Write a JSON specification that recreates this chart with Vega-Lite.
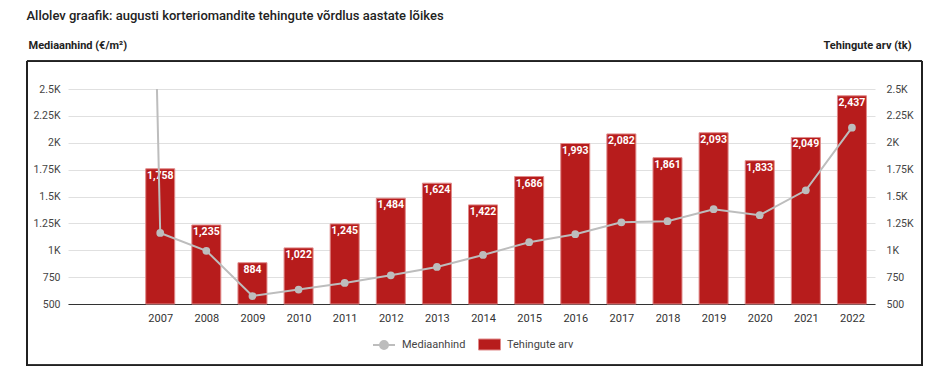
{
  "$schema": "https://vega.github.io/schema/vega-lite/v6.json",
  "width": 807,
  "height": 215,
  "autosize": {"type": "none"},
  "padding": {"left": 68, "top": 89, "right": 73, "bottom": 68},
  "background": "white",
  "config": {"font": "Roboto", "view": {"stroke": null}},
  "title": {"text": "Allolev graafik: augusti korteriomandite tehingute võrdlus aastate lõikes", "anchor": "start", "fontSize": 13, "fontWeight": 500, "color": "#222", "offset": 16},
  "data": {"values": [
    {"year": 2006, "price": 20000, "count": null},
    {"year": 2007, "price": 1161, "count": 1758},
    {"year": 2008, "price": 995, "count": 1235},
    {"year": 2009, "price": 574, "count": 884},
    {"year": 2010, "price": 634, "count": 1022},
    {"year": 2011, "price": 696, "count": 1245},
    {"year": 2012, "price": 767, "count": 1484},
    {"year": 2013, "price": 845, "count": 1624},
    {"year": 2014, "price": 956, "count": 1422},
    {"year": 2015, "price": 1075, "count": 1686},
    {"year": 2016, "price": 1149, "count": 1993},
    {"year": 2017, "price": 1260, "count": 2082},
    {"year": 2018, "price": 1270, "count": 1861},
    {"year": 2019, "price": 1382, "count": 2093},
    {"year": 2020, "price": 1326, "count": 1833},
    {"year": 2021, "price": 1558, "count": 2049},
    {"year": 2022, "price": 2140, "count": 2437}
  ]},
  "layer": [
    {
      "layer": [
        {
          "mark": {"type": "rect", "fill": null, "stroke": "#222", "strokeWidth": 1, "clip": false},
          "encoding": {
            "x": {"datum": 2004.11, "type": "quantitative", "scale": {"domain": [2005, 2022.5], "nice": false, "zero": false, "padding": 0}},
            "x2": {"datum": 2023.52},
            "y": {"datum": 2757, "type": "quantitative", "scale": {"domain": [500, 2500], "nice": false, "zero": false},
              "axis": {"orient": "right", "values": [500, 750, 1000, 1250, 1500, 1750, 2000, 2250, 2500], "labelExpr": "datum.value >= 1000 ? (datum.value/1000) + 'K' : datum.value + ''", "labelOverlap": false, "grid": false, "domain": false, "ticks": false, "labelPadding": 11, "labelFontSize": 10.5, "labelColor": "#444", "title": "Tehingute arv (tk)", "titleAngle": 0, "titleX": 36, "titleY": -44, "titleAlign": "right", "titleBaseline": "middle", "titleFontSize": 11, "titleFontWeight": "bold", "titleColor": "#222"}},
            "y2": {"datum": -71}
          }
        },
        {
          "transform": [{"filter": "datum.count != null"}],
          "mark": {"type": "bar", "width": 29, "stroke": "#e08a8a", "strokeWidth": 1},
          "encoding": {
            "x": {"field": "year", "type": "quantitative", "scale": {"domain": [2005, 2022.5], "nice": false, "zero": false, "padding": 0},
              "axis": {"values": [2007, 2008, 2009, 2010, 2011, 2012, 2013, 2014, 2015, 2016, 2017, 2018, 2019, 2020, 2021, 2022], "format": "d", "grid": false, "ticks": false, "domainColor": "#333", "labelColor": "#333", "labelFontSize": 11, "labelPadding": 8, "labelOverlap": false, "title": null}},
            "y": {"field": "count", "type": "quantitative", "scale": {"domain": [500, 2500], "nice": false, "zero": false},
              "axis": {"orient": "right", "values": [500, 750, 1000, 1250, 1500, 1750, 2000, 2250, 2500], "labelExpr": "datum.value >= 1000 ? (datum.value/1000) + 'K' : datum.value + ''", "labelOverlap": false, "grid": false, "domain": false, "ticks": false, "labelPadding": 11, "labelFontSize": 10.5, "labelColor": "#444", "title": "Tehingute arv (tk)", "titleAngle": 0, "titleX": 36, "titleY": -44, "titleAlign": "right", "titleBaseline": "middle", "titleFontSize": 11, "titleFontWeight": "bold", "titleColor": "#222"}},
            "y2": {"datum": 500},
            "fill": {"datum": "Tehingute arv", "scale": {"domain": ["Tehingute arv"], "range": ["#b71c1c"]},
              "legend": {"orient": "none", "legendX": 410, "legendY": 244, "title": null, "labelFontSize": 11, "labelColor": "#444", "symbolType": "M-1,-0.5H1V0.5H-1Z", "symbolSize": 484, "symbolStrokeColor": "#e08a8a", "symbolStrokeWidth": 1, "symbolOpacity": 1, "labelOffset": 6}}
          }
        },
        {
          "transform": [{"filter": "datum.count != null"}],
          "mark": {"type": "text", "color": "white", "fontWeight": "bold", "fontSize": 10.5, "baseline": "top", "dy": 2},
          "encoding": {
            "x": {"field": "year", "type": "quantitative", "scale": {"domain": [2005, 2022.5], "nice": false, "zero": false, "padding": 0}},
            "y": {"field": "count", "type": "quantitative", "scale": {"domain": [500, 2500], "nice": false, "zero": false},
              "axis": {"orient": "right", "values": [500, 750, 1000, 1250, 1500, 1750, 2000, 2250, 2500], "labelExpr": "datum.value >= 1000 ? (datum.value/1000) + 'K' : datum.value + ''", "labelOverlap": false, "grid": false, "domain": false, "ticks": false, "labelPadding": 11, "labelFontSize": 10.5, "labelColor": "#444", "title": "Tehingute arv (tk)", "titleAngle": 0, "titleX": 36, "titleY": -44, "titleAlign": "right", "titleBaseline": "middle", "titleFontSize": 11, "titleFontWeight": "bold", "titleColor": "#222"}},
            "text": {"field": "count", "format": ","}
          }
        }
      ]
    },
    {
      "layer": [
        {
          "mark": {"type": "line", "strokeWidth": 2, "clip": true},
          "encoding": {
            "x": {"field": "year", "type": "quantitative", "scale": {"domain": [2005, 2022.5], "nice": false, "zero": false, "padding": 0}},
            "y": {"field": "price", "type": "quantitative", "scale": {"domain": [500, 2500], "nice": false, "zero": false},
              "axis": {"orient": "left", "values": [500, 750, 1000, 1250, 1500, 1750, 2000, 2250, 2500], "labelExpr": "datum.value >= 1000 ? (datum.value/1000) + 'K' : datum.value + ''", "labelOverlap": false, "grid": true, "gridColor": "#e0e0e0", "domain": false, "ticks": false, "labelPadding": 8, "labelFontSize": 10.5, "labelColor": "#444", "title": "Mediaanhind (€/m²)", "titleAngle": 0, "titleX": -40, "titleY": -44, "titleAlign": "left", "titleBaseline": "middle", "titleFontSize": 11, "titleFontWeight": "bold", "titleColor": "#222"}},
            "stroke": {"datum": "Mediaanhind", "scale": {"domain": ["Mediaanhind"], "range": ["#bdbdbd"]},
              "legend": {"orient": "none", "legendX": 304, "legendY": 244, "title": null, "labelFontSize": 11, "labelColor": "#444", "symbolType": "M-1,0L1,0M0.36,0A0.36,0.36,0,1,1,-0.36,0A0.36,0.36,0,1,1,0.36,0Z", "symbolSize": 484, "symbolStrokeWidth": 2, "symbolFillColor": "#bdbdbd", "symbolOpacity": 1, "labelOffset": 6,
                "encode": {"symbols": {"update": {"fill": {"value": "#bdbdbd"}, "fillOpacity": {"value": 1}}}}}}
          }
        },
        {
          "mark": {"type": "point", "filled": true, "size": 60, "opacity": 1, "color": "#bdbdbd", "clip": true},
          "encoding": {
            "x": {"field": "year", "type": "quantitative", "scale": {"domain": [2005, 2022.5], "nice": false, "zero": false, "padding": 0}},
            "y": {"field": "price", "type": "quantitative", "scale": {"domain": [500, 2500], "nice": false, "zero": false},
              "axis": {"orient": "left", "values": [500, 750, 1000, 1250, 1500, 1750, 2000, 2250, 2500], "labelExpr": "datum.value >= 1000 ? (datum.value/1000) + 'K' : datum.value + ''", "labelOverlap": false, "grid": true, "gridColor": "#e0e0e0", "domain": false, "ticks": false, "labelPadding": 8, "labelFontSize": 10.5, "labelColor": "#444", "title": "Mediaanhind (€/m²)", "titleAngle": 0, "titleX": -40, "titleY": -44, "titleAlign": "left", "titleBaseline": "middle", "titleFontSize": 11, "titleFontWeight": "bold", "titleColor": "#222"}}
          }
        }
      ]
    }
  ],
  "resolve": {"scale": {"y": "independent"}}
}
